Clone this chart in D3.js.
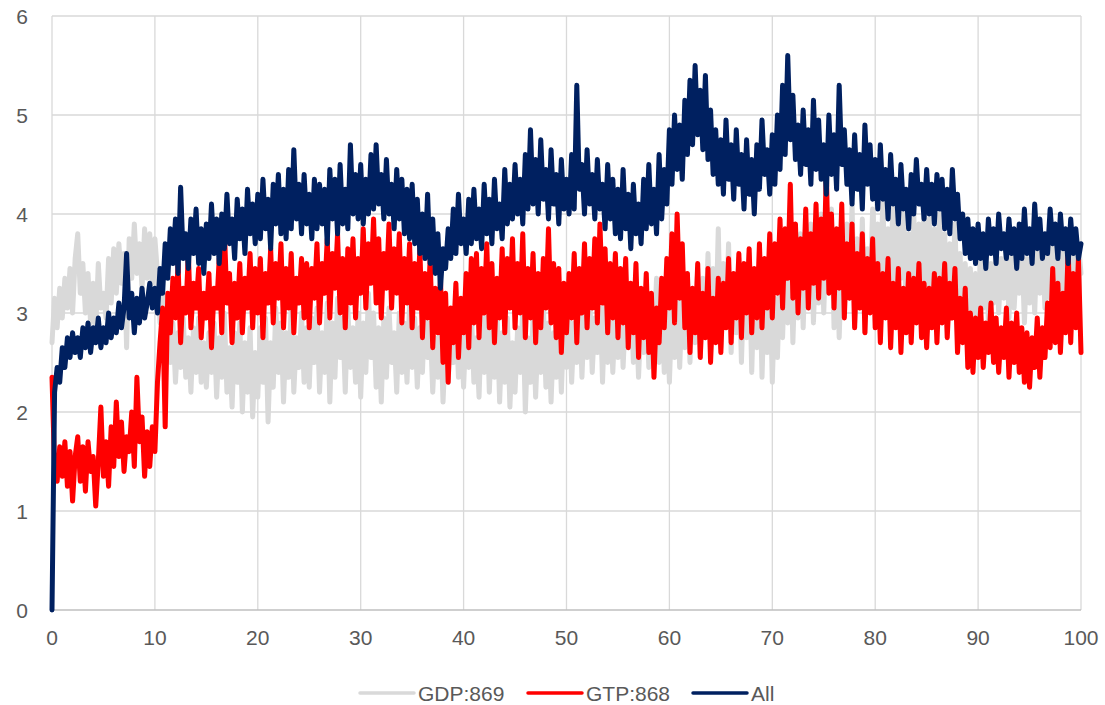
<!DOCTYPE html>
<html>
<head>
<meta charset="utf-8">
<script src="https://cdn.jsdelivr.net/npm/d3@7"></script>
<style>
  body { margin: 0; background: #ffffff; }
  svg { display: block; }
  text { font-family: "Liberation Sans", "DejaVu Sans", sans-serif; fill: #595959; }
</style>
</head>
<body>
<div id="chart"></div>
<script>
// sample spacing of the series along x
const xStep = 0.25;
const xTicks = [0, 10, 20, 30, 40, 50, 60, 70, 80, 90, 100];
const yTicks = [0, 1, 2, 3, 4, 5, 6];
const seriesNames = ["GDP:869", "GTP:868", "All"];
const seriesColors = ["#d9d9d9", "#ff0000", "#002060"];

// GDP:869
const gdp = [
  2.70, 3.15, 2.85, 3.25, 2.95, 3.35, 3.05, 3.45, 3.00, 3.55, 3.80, 3.20, 3.50, 3.00, 3.40, 2.90, 3.30, 2.85, 3.50, 3.05,
  3.20, 2.95, 3.55, 3.10, 3.65, 3.20, 3.70, 3.30, 3.60, 2.65, 3.75, 3.35, 3.90, 3.40, 3.70, 3.25, 3.85, 3.35, 3.80, 3.30,
  3.75, 3.40, 2.90, 3.20, 2.60, 3.00, 2.50, 2.90, 2.30, 2.80, 2.45, 2.95, 2.35, 2.75, 2.20, 2.85, 2.40, 2.95, 2.30, 2.70,
  2.25, 2.80, 2.40, 2.90, 2.15, 2.75, 2.35, 3.00, 2.20, 2.65, 2.05, 2.80, 2.30, 2.90, 2.00, 2.70, 2.20, 2.85, 1.95, 2.60,
  2.15, 2.85, 2.30, 2.95, 1.90, 2.70, 2.25, 3.05, 2.40, 2.90, 2.10, 2.80, 2.35, 3.10, 2.20, 2.75, 2.45, 3.00, 2.30, 2.85,
  2.25, 2.95, 2.50, 3.05, 2.20, 2.80, 2.40, 3.10, 2.10, 2.90, 2.35, 3.15, 2.55, 2.95, 2.20, 3.05, 2.45, 2.85, 2.30, 3.00,
  2.15, 2.90, 2.40, 3.20, 2.55, 3.00, 2.25, 2.85, 2.10, 2.95, 2.35, 3.05, 2.50, 2.80, 2.20, 3.00, 2.40, 2.90, 2.30, 3.10,
  2.45, 2.95, 2.25, 2.85, 2.40, 3.10, 2.55, 2.90, 2.20, 2.75, 2.35, 2.95, 2.10, 2.70, 2.30, 2.85, 2.50, 3.00, 2.35, 2.80,
  2.25, 2.90, 2.45, 3.05, 2.30, 2.75, 2.15, 2.95, 2.40, 3.10, 2.20, 2.85, 2.35, 3.00, 2.10, 2.80, 2.30, 2.95, 2.05, 2.70,
  2.20, 2.85, 2.40, 3.05, 2.00, 2.75, 2.30, 2.95, 2.15, 2.85, 2.40, 3.10, 2.25, 2.90, 2.10, 2.80, 2.35, 3.00, 2.20, 2.95,
  2.45, 3.05, 2.30, 2.90, 2.50, 3.15, 2.35, 3.00, 2.55, 3.20, 2.40, 2.95, 2.60, 3.25, 2.30, 3.05, 2.50, 3.10, 2.40, 3.00,
  2.55, 3.20, 2.45, 3.05, 2.65, 3.30, 2.50, 3.10, 2.35, 2.95, 2.60, 3.25, 2.45, 3.15, 2.70, 3.35, 2.50, 3.20, 2.40, 3.10,
  2.30, 3.05, 2.55, 3.30, 2.45, 3.15, 2.65, 3.40, 2.50, 3.25, 2.70, 3.45, 2.55, 3.35, 2.75, 3.60, 2.60, 3.45, 2.80, 3.85,
  2.65, 3.50, 2.85, 3.70, 2.60, 3.40, 2.80, 3.55, 2.50, 3.35, 2.75, 3.60, 2.40, 3.30, 2.65, 3.50, 2.35, 3.25, 2.60, 3.45,
  2.30, 3.15, 2.55, 3.40, 2.75, 3.60, 2.90, 3.75, 2.70, 3.50, 2.95, 3.80, 2.85, 3.65, 3.05, 3.90, 2.90, 3.70, 3.10, 4.00,
  3.00, 3.85, 3.20, 4.05, 2.85, 3.70, 2.75, 3.55, 3.00, 3.90, 3.15, 4.10, 2.90, 3.75, 3.05, 3.95, 2.80, 3.65, 3.20, 4.05,
  3.10, 3.90, 3.30, 4.15, 3.05, 3.85, 3.25, 4.25, 3.15, 3.95, 3.35, 4.10, 3.00, 3.80, 3.20, 4.00, 3.10, 3.90, 3.30, 4.05,
  3.15, 3.95, 3.05, 3.85, 3.25, 4.00, 3.10, 3.80, 2.95, 3.70, 3.15, 3.90, 3.00, 3.60, 2.80, 3.50, 2.90, 3.45, 2.75, 3.40,
  2.95, 3.55, 3.05, 3.65, 2.90, 3.50, 3.10, 3.70, 3.00, 3.55, 3.15, 3.75, 2.95, 3.60, 3.05, 3.50, 3.20, 3.70, 2.90, 3.55,
  3.10, 3.65, 3.00, 3.75, 3.20, 3.60, 3.05, 3.80, 3.15, 3.70, 3.25, 3.85, 3.00, 3.65, 3.20, 3.75, 3.10, 3.60, 3.30, 3.70,
  3.40
];

// GTP:868
const gtp = [
  2.35, 1.45, 1.30, 1.65, 1.35, 1.70, 1.25, 1.60, 1.10, 1.55, 1.75, 1.30, 1.65, 1.20, 1.70, 1.40, 1.55, 1.05, 1.50, 2.05,
  1.35, 1.70, 1.25, 1.85, 1.45, 2.10, 1.55, 1.90, 1.40, 1.75, 1.60, 2.00, 1.45, 2.35, 1.70, 1.95, 1.35, 1.80, 1.45, 1.85,
  1.60, 2.30, 2.70, 3.05, 1.85, 3.20, 2.80, 3.35, 2.95, 3.50, 2.70, 3.25, 3.00, 3.60, 2.85, 3.30, 3.05, 3.45, 2.75, 3.20,
  2.95, 3.40, 2.65, 3.25, 3.05, 3.55, 2.80, 3.85, 3.10, 3.40, 2.70, 3.30, 2.95, 3.50, 2.80, 3.35, 3.05, 3.60, 2.85, 3.45,
  3.00, 3.55, 2.75, 3.40, 3.10, 3.65, 2.90, 3.50, 3.15, 3.70, 2.85, 3.45, 3.05, 3.60, 2.80, 3.35, 3.10, 3.55, 2.95, 3.50,
  2.85, 3.45, 3.15, 3.70, 2.90, 3.50, 3.20, 3.75, 2.95, 3.60, 3.25, 3.80, 3.00, 3.55, 2.85, 3.65, 3.10, 3.75, 2.95, 3.55,
  3.20, 3.85, 3.05, 3.70, 3.30, 3.95, 3.10, 3.75, 2.95, 3.60, 3.25, 3.90, 3.05, 3.65, 3.20, 3.80, 2.90, 3.55, 3.10, 3.70,
  2.85, 3.50, 3.05, 3.65, 2.75, 3.40, 2.95, 3.55, 2.65, 3.25, 2.80, 3.35, 2.50, 3.20, 2.30, 3.05, 2.70, 3.30, 2.55, 3.15,
  2.80, 3.40, 2.65, 3.55, 2.90, 3.60, 2.75, 3.45, 3.00, 3.70, 2.85, 3.50, 2.70, 3.35, 2.95, 3.65, 2.80, 3.55, 3.05, 3.75,
  2.85, 3.50, 3.00, 3.80, 2.75, 3.45, 2.95, 3.60, 2.70, 3.40, 2.85, 3.55, 3.05, 3.85, 2.90, 3.50, 2.75, 3.45, 2.60, 3.30,
  2.80, 3.40, 2.95, 3.60, 2.70, 3.45, 3.00, 3.70, 2.85, 3.55, 3.05, 3.75, 2.90, 3.90, 3.10, 3.65, 2.80, 3.50, 2.95, 3.60,
  2.75, 3.45, 2.90, 3.55, 2.65, 3.30, 2.80, 3.50, 2.55, 3.25, 2.75, 3.40, 2.60, 3.20, 2.35, 3.05, 2.70, 3.35, 2.85, 3.55,
  3.05, 3.80, 2.90, 4.00, 3.15, 3.70, 2.85, 3.40, 2.60, 3.25, 2.80, 3.50, 2.55, 3.20, 2.75, 3.45, 2.50, 3.15, 2.70, 3.35,
  2.60, 3.30, 2.85, 3.55, 2.70, 3.40, 2.95, 3.60, 2.75, 3.50, 3.00, 3.65, 2.80, 3.45, 2.95, 3.70, 2.85, 3.55, 3.05, 3.80,
  2.95, 3.70, 3.20, 3.95, 3.05, 3.85, 3.35, 4.30, 3.15, 3.90, 3.00, 3.75, 3.25, 4.05, 3.05, 3.80, 3.30, 4.10, 3.15, 3.95,
  3.35, 4.45, 3.20, 4.00, 3.05, 3.85, 3.25, 4.10, 2.95, 3.70, 3.15, 3.90, 2.85, 3.60, 3.05, 3.80, 2.80, 3.55, 3.00, 3.75,
  2.85, 3.50, 2.70, 3.40, 2.95, 3.55, 2.65, 3.30, 2.85, 3.45, 2.60, 3.25, 2.80, 3.40, 2.70, 3.35, 2.90, 3.50, 2.75, 3.30,
  2.65, 3.25, 2.85, 3.40, 2.70, 3.35, 2.90, 3.50, 2.75, 3.30, 2.95, 3.45, 2.60, 3.15, 2.70, 3.25, 2.45, 3.00, 2.40, 2.95,
  2.55, 3.05, 2.45, 2.90, 2.60, 3.10, 2.50, 2.95, 2.40, 2.85, 2.55, 3.05, 2.35, 2.90, 2.50, 3.00, 2.40, 2.85, 2.30, 2.80,
  2.25, 2.75, 2.45, 2.95, 2.35, 2.85, 2.55, 3.10, 2.65, 3.45, 2.70, 3.30, 2.60, 3.20, 2.80, 3.65, 2.70, 3.40, 2.85, 3.55,
  2.60
];

// All
const all = [
  0.00, 2.20, 2.45, 2.30, 2.65, 2.45, 2.75, 2.55, 2.80, 2.60, 2.75, 2.55, 2.85, 2.65, 2.90, 2.60, 2.85, 2.70, 2.95, 2.65,
  2.85, 2.70, 3.00, 2.75, 2.95, 2.80, 3.10, 2.85, 3.05, 3.60, 2.95, 3.20, 2.80, 3.15, 2.90, 3.25, 2.95, 3.10, 3.30, 3.05,
  3.25, 3.00, 3.45, 3.20, 3.70, 3.35, 3.85, 3.50, 3.95, 3.40, 4.27, 3.55, 3.80, 3.45, 3.95, 3.60, 4.05, 3.50, 3.85, 3.40,
  3.90, 3.55, 4.10, 3.60, 3.95, 3.50, 4.00, 3.65, 4.20, 3.70, 3.95, 3.55, 4.15, 3.75, 4.05, 3.60, 4.25, 3.80, 4.10, 3.70,
  4.20, 3.75, 4.35, 3.85, 4.15, 3.65, 4.30, 3.90, 4.40, 3.80, 4.25, 3.75, 4.45, 3.85, 4.65, 3.95, 4.30, 3.80, 4.40, 3.90,
  4.20, 3.75, 4.35, 3.85, 4.30, 3.90, 4.25, 3.70, 4.45, 3.95, 4.35, 3.80, 4.50, 3.90, 4.25, 3.85, 4.70, 4.00, 4.40, 3.95,
  4.50, 3.90, 4.35, 4.00, 4.60, 4.05, 4.70, 4.10, 4.40, 3.95, 4.55, 4.00, 4.30, 3.85, 4.45, 3.95, 4.35, 3.80, 4.25, 3.75,
  4.30, 3.70, 4.15, 3.60, 4.00, 3.55, 4.20, 3.50, 3.95, 3.40, 3.80, 3.25, 3.65, 3.45, 3.85, 3.55, 4.05, 3.60, 4.20, 3.70,
  3.95, 3.60, 4.15, 3.70, 4.25, 3.75, 4.05, 3.65, 4.30, 3.80, 4.15, 3.70, 4.35, 3.85, 4.10, 3.75, 4.45, 3.90, 4.30, 3.95,
  4.50, 4.00, 4.35, 3.90, 4.60, 4.05, 4.85, 4.10, 4.55, 4.00, 4.75, 4.15, 4.45, 3.95, 4.65, 4.10, 4.40, 3.90, 4.55, 4.05,
  4.35, 4.00, 4.60, 4.05, 5.30, 4.25, 4.50, 4.00, 4.65, 4.10, 4.40, 3.95, 4.55, 4.05, 4.30, 3.85, 4.50, 3.95, 4.35, 3.80,
  4.25, 3.75, 4.45, 3.85, 4.20, 3.65, 4.30, 3.80, 4.10, 3.70, 4.35, 3.85, 4.50, 3.90, 4.25, 3.80, 4.60, 3.95, 4.45, 4.10,
  4.85, 4.30, 5.00, 4.45, 4.90, 4.35, 5.15, 4.60, 5.35, 4.70, 5.50, 4.80, 5.25, 4.65, 5.40, 4.55, 5.05, 4.40, 4.85, 4.30,
  4.75, 4.20, 4.95, 4.35, 4.70, 4.15, 4.85, 4.30, 4.60, 4.05, 4.75, 4.20, 4.55, 4.00, 4.70, 4.25, 4.95, 4.40, 4.65, 4.20,
  4.80, 4.30, 5.00, 4.45, 5.30, 4.60, 5.60, 4.75, 5.20, 4.55, 4.90, 4.40, 5.05, 4.50, 4.85, 4.30, 5.15, 4.45, 4.95, 4.35,
  4.70, 4.20, 5.00, 4.40, 4.80, 4.25, 5.30, 4.50, 4.85, 4.30, 4.65, 4.10, 4.80, 4.25, 4.60, 4.05, 4.90, 4.30, 4.70, 4.15,
  4.55, 4.05, 4.70, 4.15, 4.45, 3.95, 4.60, 4.10, 4.35, 3.90, 4.50, 4.05, 4.25, 3.85, 4.40, 4.00, 4.55, 4.10, 4.30, 3.95,
  4.45, 4.00, 4.30, 3.90, 4.40, 4.05, 4.35, 3.85, 4.25, 3.80, 4.45, 3.95, 4.20, 3.75, 4.00, 3.60, 3.95, 3.55, 3.85, 3.50,
  3.90, 3.55, 3.80, 3.45, 3.95, 3.60, 3.85, 3.50, 4.00, 3.65, 3.80, 3.55, 3.95, 3.60, 3.85, 3.45, 3.90, 3.55, 4.05, 3.60,
  3.85, 3.50, 4.10, 3.65, 3.95, 3.55, 3.80, 3.60, 4.05, 3.70, 3.90, 3.55, 4.00, 3.65, 3.85, 3.50, 3.95, 3.60, 3.85, 3.55,
  3.70
];

const seriesData = [gdp, gtp, all];

const W = 1105, H = 705;
const margin = { top: 16, right: 24, bottom: 95, left: 52 };
const width = W - margin.left - margin.right,
      height = H - margin.top - margin.bottom;

const svg = d3.select("#chart").append("svg")
    .attr("width", W)
    .attr("height", H);

const g = svg.append("g")
    .attr("transform", "translate(" + margin.left + "," + margin.top + ")");

const x = d3.scaleLinear().domain([0, 100]).range([0, width]);
const y = d3.scaleLinear().domain([0, 6]).range([height, 0]);

// grid
g.append("g").selectAll("line")
    .data(yTicks.filter(d => d > 0))
    .join("line")
    .attr("x1", 0).attr("x2", width)
    .attr("y1", d => y(d)).attr("y2", d => y(d))
    .attr("stroke", "#d9d9d9").attr("stroke-width", 1.3);

g.append("g").selectAll("line")
    .data(xTicks)
    .join("line")
    .attr("x1", d => x(d)).attr("x2", d => x(d))
    .attr("y1", 0).attr("y2", height)
    .attr("stroke", "#d9d9d9").attr("stroke-width", 1.3);

// x axis baseline
g.append("line")
    .attr("x1", 0).attr("x2", width)
    .attr("y1", y(0)).attr("y2", y(0))
    .attr("stroke", "#bfbfbf").attr("stroke-width", 1.5);

// tick labels
g.append("g").selectAll("text")
    .data(yTicks)
    .join("text")
    .attr("x", -24)
    .attr("y", d => y(d))
    .attr("dy", "0.36em")
    .attr("text-anchor", "end")
    .style("font-size", "21px")
    .text(d => d);

g.append("g").selectAll("text")
    .data(xTicks)
    .join("text")
    .attr("x", d => x(d))
    .attr("y", height + 35)
    .attr("text-anchor", "middle")
    .style("font-size", "21px")
    .text(d => d);

// series
const line = d3.line()
    .x((d, i) => x(i * xStep))
    .y(d => y(d));

seriesData.forEach((s, k) => {
    g.append("path")
        .datum(s)
        .attr("d", line)
        .attr("fill", "none")
        .attr("stroke", seriesColors[k])
        .attr("stroke-width", 5)
        .attr("stroke-linejoin", "round")
        .attr("stroke-linecap", "round");
});

// legend
const legendX = [360, 528, 693];
const legend = svg.append("g").attr("transform", "translate(0,693)");
seriesNames.forEach((name, k) => {
    legend.append("line")
        .attr("x1", legendX[k]).attr("x2", legendX[k] + 54)
        .attr("y1", 0).attr("y2", 0)
        .attr("stroke", seriesColors[k])
        .attr("stroke-width", 3.5)
        .attr("stroke-linecap", "round");
    legend.append("text")
        .attr("x", legendX[k] + 58)
        .attr("y", 0)
        .attr("dy", "0.36em")
        .style("font-size", "21px")
        .text(name);
});
</script>
</body>
</html>
